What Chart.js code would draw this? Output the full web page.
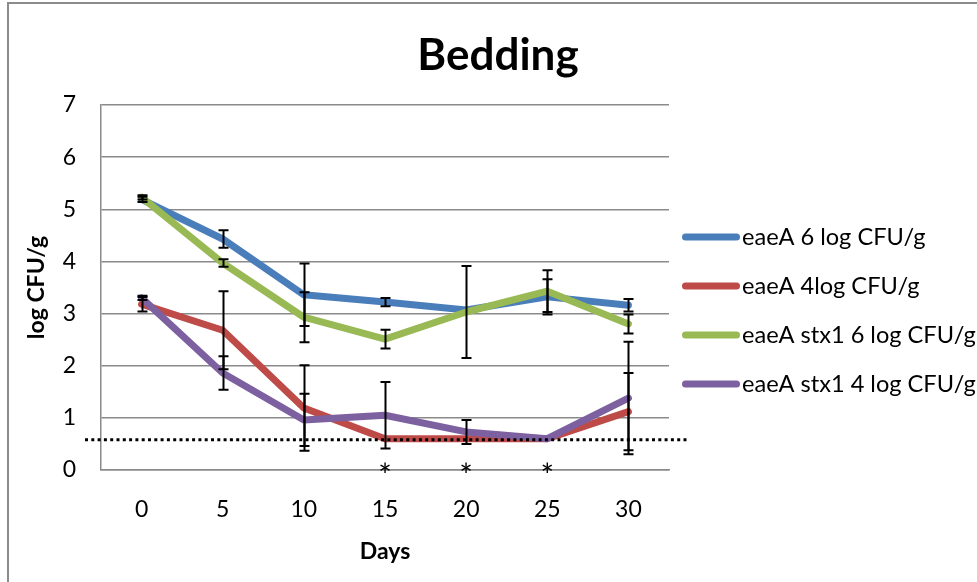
<!DOCTYPE html>
<html>
<head>
<meta charset="utf-8">
<title>Bedding</title>
<script src="https://cdn.jsdelivr.net/npm/chart.js@4.4.1/dist/chart.umd.min.js"></script>
<style>
  html, body { margin: 0; padding: 0; background: #ffffff; }
  #wrap { position: relative; width: 977px; height: 582px; }
</style>
</head>
<body>
<div id="wrap"><canvas id="chart" width="977" height="582"></canvas></div>
<script>
// Sampling days
const days = ['0', '5', '10', '15', '20', '25', '30'];

// Mean counts (log CFU/g) per inoculum group
const eaeA6 = [5.19, 4.43, 3.36, 3.22, 3.07, 3.32, 3.16];
const eaeA4 = [3.18, 2.68, 1.19, 0.60, 0.60, 0.60, 1.12];
const eaeAstx6 = [5.23, 3.97, 2.93, 2.51, 3.03, 3.43, 2.80];
const eaeAstx4 = [3.30, 1.86, 0.96, 1.05, 0.73, 0.60, 1.38];

// Standard deviations (0 = no bar)
const eaeA6Err = [0.05, 0.17, 0.60, 0.08, 0, 0.34, 0.12];
const eaeA4Err = [0.14, 0.75, 0.82, 0, 0, 0, 0.74];
const eaeAstx6Err = [0.04, 0.07, 0.48, 0.18, 0.88, 0.40, 0.18];
const eaeAstx4Err = [0.04, 0.32, 0.50, 0.64, 0.23, 0, 1.08];

// Detection limit and days marked as significant
const detectionLimit = 0.58;
const starDays = ['15', '20', '25'];

// Axis range
const yMin = 0, yMax = 7, yStep = 1;

const seriesLabels = ['eaeA 6 log CFU/g', 'eaeA 4log CFU/g', 'eaeA stx1 6 log CFU/g', 'eaeA stx1 4 log CFU/g'];
const seriesColors = ['#4a7ebb', '#be4b48', '#98b954', '#7d60a0'];
const seriesValues = [eaeA6, eaeA4, eaeAstx6, eaeAstx4];
const seriesErrors = [eaeA6Err, eaeA4Err, eaeAstx6Err, eaeAstx4Err];

const FONT = 'Lato';
const GRID = '#8a8a8a';

const datasets = seriesLabels.map((label, i) => ({
  label,
  data: seriesValues[i],
  errors: seriesErrors[i],
  borderColor: seriesColors[i],
  backgroundColor: seriesColors[i],
  borderWidth: 7,
  borderCapStyle: 'round',
  borderJoinStyle: 'round',
  pointRadius: 0,
  pointHoverRadius: 0,
  tension: 0,
  fill: false,
  order: seriesLabels.length - i
}));

// Outer frame of the chart object
const framePlugin = {
  id: 'frame',
  beforeDraw(chart) {
    const ctx = chart.ctx;
    ctx.save();
    ctx.strokeStyle = '#8c8c8c';
    ctx.lineWidth = 2;
    ctx.beginPath();
    ctx.moveTo(8, chart.height);
    ctx.lineTo(8, 3);
    ctx.lineTo(chart.width, 3);
    ctx.stroke();
    ctx.restore();
  }
};

// Error bars, detection-limit line and significance stars
const overlayPlugin = {
  id: 'overlay',
  afterDatasetsDraw(chart) {
    const ctx = chart.ctx;
    const xs = chart.scales.x;
    const ys = chart.scales.y;
    const area = chart.chartArea;
    ctx.save();

    // detection limit (dotted)
    const yl = ys.getPixelForValue(detectionLimit);
    ctx.strokeStyle = '#000';
    ctx.lineWidth = 3;
    ctx.setLineDash([3, 3.3]);
    ctx.beginPath();
    ctx.moveTo(area.left - 16, yl);
    ctx.lineTo(area.right + 18, yl);
    ctx.stroke();
    ctx.setLineDash([]);

    // error bars
    ctx.lineWidth = 2;
    ctx.strokeStyle = '#000';
    chart.data.datasets.forEach((ds) => {
      ds.data.forEach((v, j) => {
        const e = ds.errors[j];
        if (!e) return;
        const x = Math.round(xs.getPixelForValue(j)) + 0.5;
        const yt = ys.getPixelForValue(v + e);
        const yb = ys.getPixelForValue(v - e);
        ctx.beginPath();
        ctx.moveTo(x, yt); ctx.lineTo(x, yb);
        ctx.moveTo(x - 5, yt); ctx.lineTo(x + 5, yt);
        ctx.moveTo(x - 5, yb); ctx.lineTo(x + 5, yb);
        ctx.stroke();
      });
    });

    // significance stars
    ctx.fillStyle = '#000';
    ctx.font = '32px ' + FONT;
    ctx.textAlign = 'center';
    ctx.textBaseline = 'alphabetic';
    starDays.forEach((d) => {
      const x = xs.getPixelForValue(days.indexOf(d));
      ctx.fillText('*', x, ys.getPixelForValue(0) + 17);
    });
    ctx.restore();
  },
  afterDraw(chart) {
    // legend in the reserved right-hand column
    const ctx = chart.ctx;
    const area = chart.chartArea;
    const step = 49;
    const n = chart.data.datasets.length;
    const y0 = (area.top + area.bottom) / 2 + 23 - step * (n - 1) / 2;
    ctx.save();
    ctx.font = '23.6px ' + FONT;
    ctx.textBaseline = 'middle';
    ctx.textAlign = 'left';
    chart.data.datasets.forEach((ds, i) => {
      const y = y0 + i * step;
      ctx.strokeStyle = ds.borderColor;
      ctx.lineWidth = 7;
      ctx.lineCap = 'round';
      ctx.beginPath();
      ctx.moveTo(area.right + 16.5, y);
      ctx.lineTo(area.right + 67.5, y);
      ctx.stroke();
      ctx.fillStyle = '#000';
      ctx.fillText(ds.label, area.right + 73, y);
    });
    ctx.restore();
  }
};

new Chart(document.getElementById('chart'), {
  type: 'line',
  data: { labels: days, datasets },
  plugins: [framePlugin, overlayPlugin],
  options: {
    responsive: false,
    animation: false,
    events: [],
    layout: { padding: { left: 19, right: 0, top: 0, bottom: 0 } },
    plugins: {
      legend: { display: false },
      tooltip: { enabled: false },
      title: {
        display: true,
        text: 'Bedding',
        color: '#000',
        font: { family: FONT, size: 44, weight: 'bold' },
        padding: { top: 29, bottom: 23.2 }
      }
    },
    scales: {
      x: {
        type: 'category',
        offset: true,
        grid: { display: false, drawTicks: false },
        border: { display: true, color: GRID, width: 1.5 },
        ticks: { color: '#000', font: { family: FONT, size: 23 }, padding: 26, maxRotation: 0 },
        title: {
          display: true, text: 'Days', color: '#000',
          font: { family: FONT, size: 23, weight: 'bold' },
          padding: { top: 14, bottom: 17 }
        },
        afterFit(scale) { scale.height = 112; }
      },
      y: {
        min: yMin, max: yMax,
        grid: { color: GRID, lineWidth: 1.5, drawTicks: false },
        border: { display: true, color: GRID, width: 1.5 },
        ticks: { stepSize: yStep, color: '#000', font: { family: FONT, size: 23 }, padding: 25 },
        title: {
          display: true, text: 'log CFU/g', color: '#000',
          font: { family: FONT, size: 23, weight: 'bold' },
          padding: { top: 4, bottom: 12 }
        },
        afterFit(scale) { scale.width = 82; }
      },
      legendSpace: {
        type: 'linear',
        position: 'right',
        display: true,
        grid: { display: false, drawTicks: false },
        border: { display: false },
        ticks: { display: false },
        afterFit(scale) { scale.width = 308; }
      }
    }
  }
});
</script>
</body>
</html>
